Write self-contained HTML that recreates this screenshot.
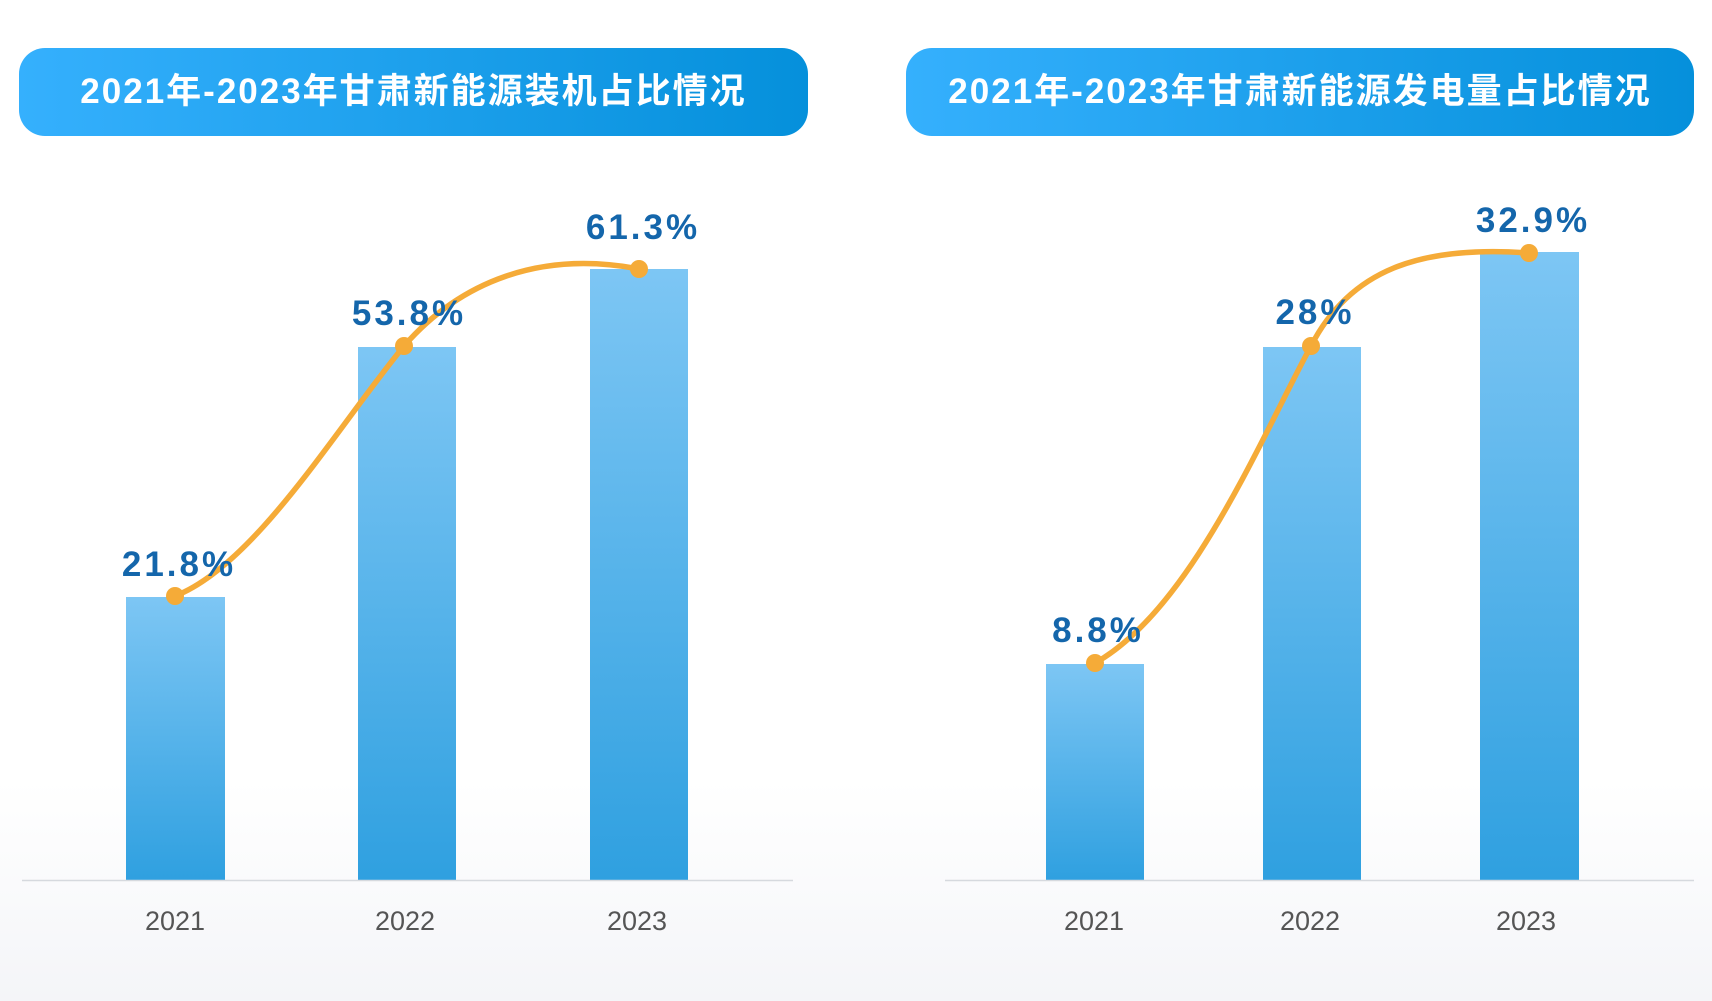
<!DOCTYPE html>
<html><head><meta charset="utf-8"><style>
html,body{margin:0;padding:0}
body{width:1712px;height:1001px;overflow:hidden;background:linear-gradient(#fff 0%,#fff 78%,#f4f5f8 100%);font-family:"Liberation Sans","Noto Sans CJK SC",sans-serif}
.hd{position:absolute;top:48px;height:88px;border-radius:26px;background:linear-gradient(90deg,#35b0fd,#0590db);color:#fff;font-weight:bold;font-size:35px;line-height:88px;text-align:center;letter-spacing:2px}
</style></head><body>
<div class="hd" style="left:19px;width:789px">2021年-2023年甘肃新能源装机占比情况</div>
<div class="hd" style="left:906px;width:788px">2021年-2023年甘肃新能源发电量占比情况</div>
<svg width="1712" height="1001" style="position:absolute;left:0;top:0">
<defs><linearGradient id="g" x1="0" y1="0" x2="0" y2="1"><stop offset="0" stop-color="#7dc6f4"/><stop offset="1" stop-color="#2fa0e0"/></linearGradient></defs>
<g fill="url(#g)">
<rect x="126" y="597" width="99" height="283"/>
<rect x="358" y="347" width="98" height="533"/>
<rect x="590" y="269" width="98" height="611"/>
<rect x="1046" y="664" width="98" height="216"/>
<rect x="1263" y="347" width="98" height="533"/>
<rect x="1480" y="252" width="99" height="628"/>
</g>
<line x1="22" y1="880.5" x2="793" y2="880.5" stroke="#d6d9de" stroke-width="1.5"/>
<line x1="945" y1="880.5" x2="1694" y2="880.5" stroke="#d6d9de" stroke-width="1.5"/>
<g fill="none" stroke="#f5ab38" stroke-width="5.5" stroke-linecap="round">
<path d="M175,596 C255,565 335,430 404,346 C460,282 540,250 639,269"/>
<path d="M1095,663 C1190,610 1260,440 1311,346 C1350,270 1420,245 1529,253"/>
</g>
<g fill="#f5ab38">
<circle cx="175" cy="596" r="9"/><circle cx="404" cy="346" r="9"/><circle cx="639" cy="269" r="9"/>
<circle cx="1095" cy="663" r="9"/><circle cx="1311" cy="346" r="9"/><circle cx="1529" cy="253" r="9"/>
</g>
<g fill="#1466ab" font-weight="bold" font-size="35" text-anchor="middle" font-family="Liberation Sans,sans-serif" letter-spacing="3">
<text x="179" y="576">21.8%</text><text x="409" y="325">53.8%</text><text x="643" y="239">61.3%</text>
<text x="1098" y="642">8.8%</text><text x="1315" y="324">28%</text><text x="1533" y="232">32.9%</text>
</g>
<g fill="#555" font-size="27" text-anchor="middle" font-family="Liberation Sans,sans-serif">
<text x="175" y="930">2021</text><text x="405" y="930">2022</text><text x="637" y="930">2023</text>
<text x="1094" y="930">2021</text><text x="1310" y="930">2022</text><text x="1526" y="930">2023</text>
</g>
</svg>
</body></html>
